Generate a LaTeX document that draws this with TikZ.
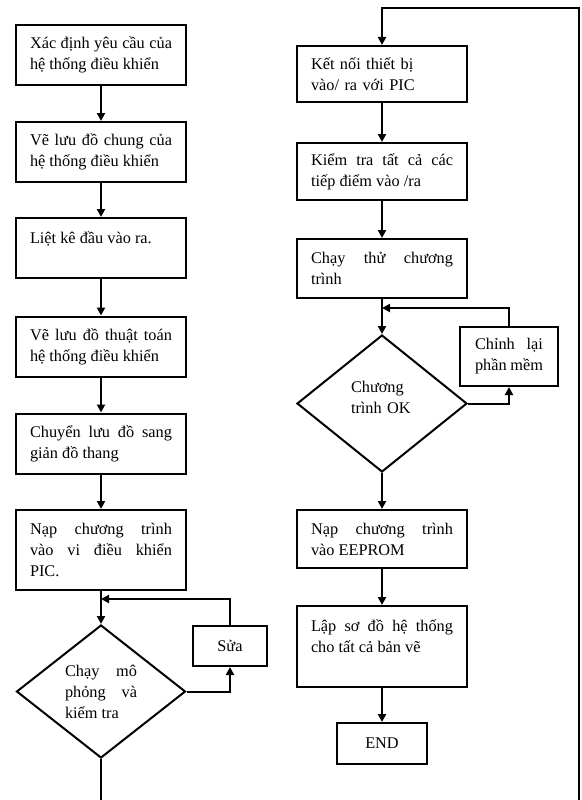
\documentclass[tikz,border=0pt]{standalone}
\usepackage{fontspec}
\setmainfont{Liberation Serif}
\usetikzlibrary{shapes.geometric,arrows.meta}
\begin{document}
\begin{tikzpicture}[x=1pt,y=-1pt,
  every node/.style={font=\fontsize{16.3}{21}\selectfont},
  stepbox/.style={draw,line width=2pt,text width=142pt,inner xsep=14pt,inner ysep=4pt,align=justify,minimum height=60pt},
  smallbox/.style={draw,line width=2pt,inner sep=4pt,align=justify},
  decision/.style={draw,diamond,line width=2pt,inner sep=0pt},
  flow/.style={line width=2pt,-{Triangle[length=8pt,width=8pt]}},
  plain/.style={line width=2pt}]
\useasboundingbox (0,0) rectangle (581,800);
% left column
\node[stepbox] (a1) at (101,55) {Xác định yêu cầu của\linebreak hệ thống điều khiển};
\node[stepbox] (a2) at (101,152) {Vẽ lưu đồ chung của\linebreak hệ thống điều khiển};
\node[stepbox] (a3) at (101,248) {Liệt kê đầu vào ra.\\\mbox{}};
\node[stepbox] (a4) at (101,346.5) {Vẽ lưu đồ thuật toán\linebreak hệ thống điều khiển};
\node[stepbox] (a5) at (101,443.5) {Chuyển lưu đồ sang\linebreak giản đồ thang};
\node[stepbox,minimum height=80pt] (a6) at (101,550) {Nạp chương trình\linebreak vào vi điều khiển\linebreak PIC.};
\node[decision,minimum width=169pt,minimum height=133pt,text width=72pt,align=justify] (d1) at (101,691.5) {Chạy mô\linebreak phỏng và\linebreak kiểm tra};
\node[smallbox,minimum width=74pt,minimum height=40pt,align=center] (fix) at (230,646) {Sửa};
\coordinate (m1) at (101,599);
\coordinate (b1) at (101,800);
% right column
\node[stepbox,minimum height=56pt,align=left] (r1) at (382,74) {Kết nối thiết bị\\vào/ ra với PIC};
\node[stepbox,minimum height=57pt] (r2) at (382,171.5) {Kiểm tra tất cả các\linebreak tiếp điểm vào /ra};
\node[stepbox,minimum height=59pt] (r3) at (382,268.5) {Chạy thử chương\linebreak trình};
\node[decision,minimum width=170pt,minimum height=137pt,text width=62pt,align=left] (d2) at (382,403.5) {Chương\\trình OK\\[-8pt]\mbox{}};
\node[smallbox,minimum width=98pt,minimum height=59pt,text width=68pt,inner xsep=15pt] (edit) at (509,356.5) {Chỉnh lại\linebreak phần mềm};
\node[stepbox,minimum height=58pt] (r4) at (382,539) {Nạp chương trình\linebreak vào EEPROM};
\node[stepbox,minimum height=81pt] (r5) at (382,646.5) {Lập sơ đồ hệ thống\linebreak cho tất cả bản vẽ\\\mbox{}};
\node[smallbox,minimum width=90pt,minimum height=41pt,align=center] (end) at (382,743.5) {END};
\coordinate (m2) at (382,308);
\coordinate (c1) at (579,800);
\coordinate (c2) at (579,8);
\coordinate (c3) at (382,8);
% connectors left
\draw[flow] (a1) -- (a2);
\draw[flow] (a2) -- (a3);
\draw[flow] (a3) -- (a4);
\draw[flow] (a4) -- (a5);
\draw[flow] (a5) -- (a6);
\draw[flow] (a6.south) -- (d1.north);
\draw[flow] (fix.north) |- (m1);
\draw[flow] (d1.east) -| (fix.south);
\draw[plain] (d1.south) -- (b1);
% connectors right
\draw[flow] (c1) -- (c2) -- (c3) -- (r1.north);
\draw[flow] (r1) -- (r2);
\draw[flow] (r2) -- (r3);
\draw[flow] (r3.south) -- (d2.north);
\draw[flow] (edit.north) |- (m2);
\draw[flow] (d2.east) -| (edit.south);
\draw[flow] (d2.south) -- (r4.north);
\draw[flow] (r4) -- (r5);
\draw[flow] (r5) -- (end);
\end{tikzpicture}
\end{document}
